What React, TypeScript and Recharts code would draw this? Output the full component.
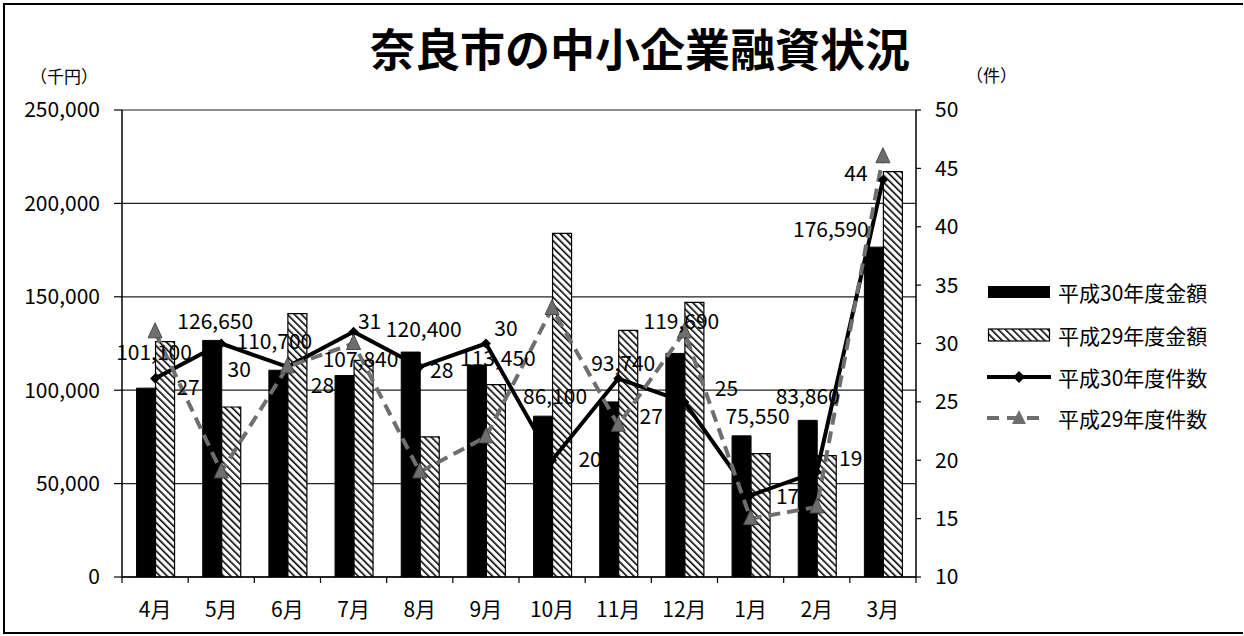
import React from 'react';
import { ComposedChart, Bar, Line, XAxis, YAxis, CartesianGrid, LabelList } from 'recharts';

const months = ['4月', '5月', '6月', '7月', '8月', '9月', '10月', '11月', '12月', '1月', '2月', '3月'];
const amountH30 = [101100, 126650, 110700, 107840, 120400, 113450, 86100, 93740, 119690, 75550, 83860, 176590];
const amountH29 = [126000, 91000, 141000, 116000, 75000, 103000, 184000, 132000, 147000, 66000, 65000, 217000];
const countH30 = [27, 30, 28, 31, 28, 30, 20, 27, 25, 17, 19, 44];
const countH29 = [31, 19, 28, 30, 19, 22, 33, 23, 31, 15, 16, 46];
const amountTicks = [0, 50000, 100000, 150000, 200000, 250000];
const countTicks = [10, 15, 20, 25, 30, 35, 40, 45, 50];
const seriesNames = ['平成30年度金額', '平成29年度金額', '平成30年度件数', '平成29年度件数'];
const titleText = '奈良市の中小企業融資状況';
const leftUnit = '（千円）';
const rightUnit = '（件）';

// label nudges (layout only)
const amountLabelOffsets = [[8, -37], [3, -20], [-4, -30], [16, -18], [13, -24], [21, -8], [12, -21], [14, -40], [6, -33], [16, -21], [0, -25], [-43, -19]];
const countLabelOffsets = [[33, 7], [18, 24], [35, 17], [16, -12], [22, 2], [20, -17], [38, -2], [33, 36], [42, -15], [37, 0], [34, -15], [-27, -8]];

const W = 1244;
const H = 636;
const LEFT_W = 122;
const RIGHT_W = 328;
const TOP = 110;
const BOTTOM = 59;
const FONT = '"Noto Sans CJK JP", "Noto Sans", sans-serif';

const data = months.map((m, i) => ({
  month: m,
  h30Amount: amountH30[i],
  h29Amount: amountH29[i],
  h30Count: countH30[i],
  h29Count: countH29[i],
}));

const fmt = (v: number) => v.toLocaleString('en-US');

const band = (W - LEFT_W - RIGHT_W) / months.length;

const XTick = (props: any) => {
  const { x, y, payload, index } = props;
  return (
    <g>
      <line x1={x - band / 2} x2={x - band / 2} y1={y} y2={y + 6} stroke="#000" strokeWidth={1.2} />
      {index === months.length - 1 && (
        <line x1={x + band / 2} x2={x + band / 2} y1={y} y2={y + 6} stroke="#000" strokeWidth={1.2} />
      )}
      <text x={x} y={y + 31} textAnchor="middle" dominantBaseline="central" fontSize={21} fontFamily={FONT} fill="#000">
        {payload.value}
      </text>
    </g>
  );
};

const AmountLabel = (props: any) => {
  const { x, y, width, value, index } = props;
  const [dx, dy] = amountLabelOffsets[index] || [0, -20];
  return (
    <text x={x + width / 2 + dx} y={y + dy} textAnchor="middle" dominantBaseline="central" fontSize={21} fontFamily={FONT} fill="#000">
      {fmt(value)}
    </text>
  );
};

const CountLabel = (props: any) => {
  const { x, y, value, index } = props;
  const [dx, dy] = countLabelOffsets[index] || [20, 0];
  return (
    <text x={x + dx} y={y + dy} textAnchor="middle" dominantBaseline="central" fontSize={21} fontFamily={FONT} fill="#000">
      {value}
    </text>
  );
};

const DiamondDot = (props: any) => {
  const { cx, cy } = props;
  if (cx == null || cy == null) return null;
  const s = 5;
  return <path d={`M${cx},${cy - s} L${cx + s},${cy} L${cx},${cy + s} L${cx - s},${cy} Z`} fill="#000" />;
};

const TriangleDot = (props: any) => {
  const { cx, cy } = props;
  if (cx == null || cy == null) return null;
  const s = 7;
  return <path d={`M${cx},${cy - s - 2} L${cx + s},${cy + s - 1} L${cx - s},${cy + s - 1} Z`} fill="#6e6e6e" stroke="#4a4a4a" strokeWidth={1} />;
};

const Legend = () => {
  const rows = [17, 60, 102, 143];
  return (
    <svg width={250} height={165} style={{ position: 'absolute', left: 985, top: 275 }}>
      <rect x={3} y={rows[0] - 6} width={62} height={12} fill="#000" />
      <rect x={3.5} y={rows[1] - 6} width={61} height={12} fill="url(#hatch)" stroke="#000" strokeWidth={1.2} />
      <line x1={2} x2={66} y1={rows[2]} y2={rows[2]} stroke="#000" strokeWidth={4} />
      <path d={`M34,${rows[2] - 6} L40,${rows[2]} L34,${rows[2] + 6} L28,${rows[2]} Z`} fill="#000" />
      <line x1={2} x2={62} y1={rows[3]} y2={rows[3]} stroke="#6e6e6e" strokeWidth={4} strokeDasharray="12 8" />
      <path d={`M34,${rows[3] - 8} L41,${rows[3] + 6} L27,${rows[3] + 6} Z`} fill="#6e6e6e" />
      {seriesNames.map((n, i) => (
        <text key={n} x={73} y={rows[i]} dominantBaseline="central" fontSize={21} fontFamily={FONT} fill="#000">
          {n}
        </text>
      ))}
    </svg>
  );
};

export default function App() {
  return (
    <div style={{ position: 'absolute', left: 0, top: 0, width: W, height: H, background: '#fff', fontFamily: FONT }}>
      <div
        style={{
          position: 'absolute',
          left: 3,
          top: 3,
          width: W - 4,
          height: H - 5,
          borderLeft: '2px solid #000',
          borderTop: '2px solid #000',
          borderBottom: '2px solid #000',
          boxSizing: 'border-box',
        }}
      />
      <ComposedChart
        width={W}
        height={H}
        data={data}
        margin={{ top: TOP, right: 0, bottom: BOTTOM - 40, left: 0 }}
        barCategoryGap="22%"
        barGap={0}
        style={{ position: 'absolute', left: 0, top: 0 }}
      >
        <defs>
          <pattern id="hatch" patternUnits="userSpaceOnUse" width={5} height={5} patternTransform="rotate(-45)">
            <rect width={5} height={5} fill="#fff" />
            <line x1={0} y1={0} x2={0} y2={5} stroke="#000" strokeWidth={3.2} />
          </pattern>
        </defs>
        <CartesianGrid vertical={false} stroke="#222" strokeWidth={1.2} yAxisId="left" />
        <XAxis
          dataKey="month"
          height={40}
          tickLine={false}
          tickSize={0}
          tickMargin={0}
          axisLine={{ stroke: '#000', strokeWidth: 1.5 }}
          tick={<XTick />}
          interval={0}
        />
        <YAxis
          yAxisId="left"
          width={LEFT_W}
          domain={[0, 250000]}
          ticks={amountTicks}
          tickFormatter={fmt}
          tickSize={8}
          tickMargin={14}
          axisLine={{ stroke: '#000', strokeWidth: 1.5 }}
          tickLine={{ stroke: '#000', strokeWidth: 1.2 }}
          tick={{ fill: '#000', fontSize: 21, fontFamily: FONT }}
          allowDataOverflow
        />
        <YAxis
          yAxisId="right"
          orientation="right"
          width={RIGHT_W}
          domain={[10, 50]}
          ticks={countTicks}
          tickSize={5}
          tickMargin={14}
          axisLine={{ stroke: '#000', strokeWidth: 1.5 }}
          tickLine={{ stroke: '#000', strokeWidth: 1.2 }}
          tick={{ fill: '#000', fontSize: 21, fontFamily: FONT, textAnchor: 'start' }}
          allowDataOverflow
        />
        <Bar yAxisId="left" dataKey="h30Amount" name={seriesNames[0]} fill="#000" stroke="#000" strokeWidth={1} isAnimationActive={false}>
          <LabelList dataKey="h30Amount" content={<AmountLabel />} />
        </Bar>
        <Bar yAxisId="left" dataKey="h29Amount" name={seriesNames[1]} fill="url(#hatch)" stroke="#000" strokeWidth={1.2} isAnimationActive={false} />
        <Line
          yAxisId="right"
          dataKey="h30Count"
          name={seriesNames[2]}
          stroke="#000"
          strokeWidth={4}
          dot={<DiamondDot />}
          activeDot={false}
          isAnimationActive={false}
        >
          <LabelList dataKey="h30Count" content={<CountLabel />} />
        </Line>
        <Line
          yAxisId="right"
          dataKey="h29Count"
          name={seriesNames[3]}
          stroke="#6e6e6e"
          strokeWidth={4}
          strokeDasharray="12 7"
          dot={<TriangleDot />}
          activeDot={false}
          isAnimationActive={false}
        />
      </ComposedChart>
      <div
        style={{
          position: 'absolute',
          left: 0,
          width: W + 36,
          top: 20,
          textAlign: 'center',
          fontSize: 45,
          fontWeight: 700,
          lineHeight: '56px',
          color: '#000',
          fontFamily: FONT,
        }}
      >
        {titleText}
      </div>
      <div style={{ position: 'absolute', left: 30, top: 63, fontSize: 17, color: '#000', fontFamily: FONT }}>{leftUnit}</div>
      <div style={{ position: 'absolute', left: 966, top: 62, fontSize: 17, color: '#000', fontFamily: FONT }}>{rightUnit}</div>
      <Legend />
    </div>
  );
}
